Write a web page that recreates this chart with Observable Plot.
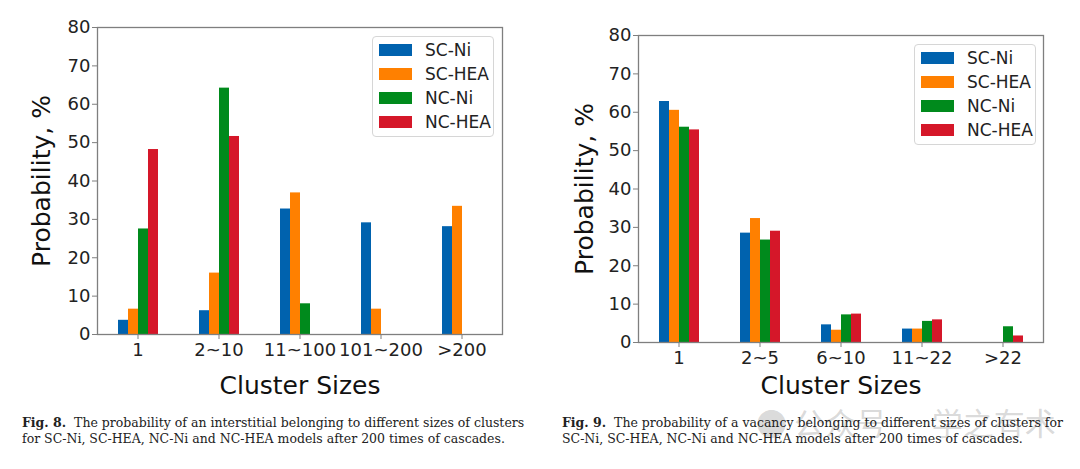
<!DOCTYPE html>
<html>
<head>
<meta charset="utf-8">
<script src="https://cdn.jsdelivr.net/npm/d3@7"></script>
<script src="https://cdn.jsdelivr.net/npm/@observablehq/plot@0.6"></script>
<style>
  html, body { margin: 0; padding: 0; background: #fff; }
  #root { position: relative; width: 1080px; height: 469px; overflow: hidden; background: #fff; }
  .panel { position: absolute; top: 0; width: 540px; height: 405px; }
  .legendbox { position: absolute; background: #fff; border: 1px solid #d6d6d6; border-radius: 4px;
    font-family: "DejaVu Sans", sans-serif; font-size: 17px; color: #222; padding: 0; box-sizing: border-box; }
  .row { position: absolute; left: 6px; height: 24px; display: flex; align-items: center; }
  .sw { width: 33px; height: 12px; margin-right: 13px; }
  .caption { position: absolute; font-family: "DejaVu Serif", serif; font-size: 12.5px;
    line-height: 16px; color: #222; white-space: nowrap; }
  .caption b { font-weight: bold; }
  .wm { position: absolute; left: 756px; top: 399px; font-family: "Noto Sans CJK SC", sans-serif; font-size: 31px;
    color: rgba(160,160,160,0.4); white-space: nowrap; }
</style>
</head>
<body>
<div id="root"></div>
<script>
const series = ["SC-Ni", "SC-HEA", "NC-Ni", "NC-HEA"];
const colors = ["#0062ae", "#ff8000", "#008a1c", "#d51729"];

// Fig. 8 : interstitials
const sizes8 = ["1", "2~10", "11~100", "101~200", ">200"];
const scNi8  = [3.7, 6.2, 32.7, 29.1, 28.1];
const scHea8 = [6.6, 16.0, 36.9, 6.6, 33.4];
const ncNi8  = [27.5, 64.2, 8.0, 0, 0];
const ncHea8 = [48.2, 51.6, 0, 0, 0];

// Fig. 9 : vacancies
const sizes9 = ["1", "2~5", "6~10", "11~22", ">22"];
const scNi9  = [62.8, 28.5, 4.6, 3.5, 0];
const scHea9 = [60.5, 32.3, 3.2, 3.5, 0];
const ncNi9  = [56.1, 26.7, 7.2, 5.5, 4.1];
const ncHea9 = [55.4, 29.0, 7.4, 5.9, 1.7];

const yTicks = [0, 10, 20, 30, 40, 50, 60, 70, 80];

function table(sizes, cols) {
  const rows = [];
  sizes.forEach((s, i) => cols.forEach((c, j) => rows.push({size: s, series: series[j], value: c[i]})));
  return rows;
}

function chart(sizes, cols, m) {
  const data = table(sizes, cols);
  return Plot.plot({
    width: 540,
    height: 405,
    marginLeft: m.left, marginRight: m.right, marginTop: m.top, marginBottom: m.bottom,
    style: {fontFamily: "DejaVu Sans, sans-serif", background: "transparent", color: "#222"},
    fx: {domain: sizes, paddingInner: 0, paddingOuter: 0, label: null, axis: null},
    x: {domain: series, paddingInner: 0, paddingOuter: 2, axis: null},
    y: {domain: [0, 80], axis: null},
    color: {domain: series, range: colors},
    marks: [
      Plot.barY(data, {fx: "size", x: "series", y: "value", fill: "series", inset: 0}),
      Plot.frame({facet: "super", stroke: "#7f7f7f", strokeWidth: 1.3}),
      Plot.axisY({ticks: yTicks, tickSize: 5, tickPadding: 2, fontSize: 18, label: null, stroke: "#7f7f7f"}),
      Plot.axisFx({anchor: "bottom", tickSize: 5, tickPadding: 4, fontSize: 18, label: null, stroke: "#7f7f7f"}),
      Plot.text(["Probability, %"], {frameAnchor: "left", textAnchor: "middle", rotate: -90, dx: -m.ylab, fontSize: 25, fill: "#111", facet: "super"}),
      Plot.text(["Cluster Sizes"], {frameAnchor: "bottom", textAnchor: "middle", lineAnchor: "bottom", dy: m.xlab, fontSize: 25, fill: "#111", facet: "super"})
    ]
  });
}

function legend(parent, left, top) {
  const box = document.createElement("div");
  box.className = "legendbox";
  box.style.left = left + "px"; box.style.top = top + "px";
  box.style.width = "122px"; box.style.height = "101px";
  series.forEach((s, i) => {
    const r = document.createElement("div");
    r.className = "row";
    r.style.top = (1 + i * 24) + "px";
    const sw = document.createElement("div");
    sw.className = "sw"; sw.style.background = colors[i];
    const t = document.createElement("span"); t.textContent = s;
    r.appendChild(sw); r.appendChild(t);
    box.appendChild(r);
  });
  parent.appendChild(box);
}

const root = document.getElementById("root");
const p1 = document.createElement("div"); p1.className = "panel"; p1.style.left = "0px";
const p2 = document.createElement("div"); p2.className = "panel"; p2.style.left = "540px";
root.appendChild(p1); root.appendChild(p2);

p1.appendChild(chart(sizes8, [scNi8, scHea8, ncNi8, ncHea8], {left: 96, right: 37, top: 27, bottom: 71, ylab: 56, xlab: 59}));
p2.appendChild(chart(sizes9, [scNi9, scHea9, ncNi9, ncHea9], {left: 96, right: 36, top: 35, bottom: 63, ylab: 54, xlab: 51}));
legend(p1, 372, 36);
legend(p2, 374, 44);

const wm = document.createElement("div"); wm.className = "wm"; wm.textContent = "● 公众号 · 学之有术";
root.appendChild(wm);

const c1 = document.createElement("div"); c1.className = "caption"; c1.style.left = "22px"; c1.style.top = "415px";
c1.innerHTML = "<b>Fig. 8.</b>&nbsp; The probability of an interstitial belonging to different sizes of clusters<br>for SC-Ni, SC-HEA, NC-Ni and NC-HEA models after 200 times of cascades.";
const c2 = document.createElement("div"); c2.className = "caption"; c2.style.left = "562px"; c2.style.top = "415px";
c2.innerHTML = "<b>Fig. 9.</b>&nbsp; The probability of a vacancy belonging to different sizes of clusters for<br>SC-Ni, SC-HEA, NC-Ni and NC-HEA models after 200 times of cascades.";
root.appendChild(c1); root.appendChild(c2);
</script>
</body>
</html>
